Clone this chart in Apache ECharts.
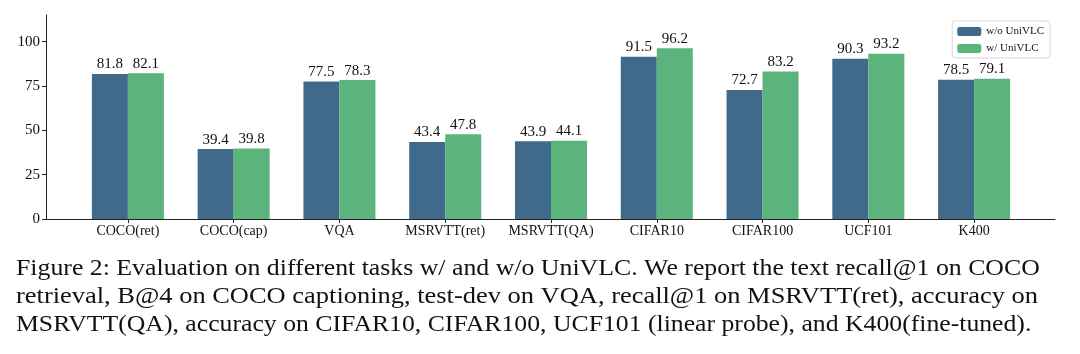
<!DOCTYPE html>
<html>
<head>
<meta charset="utf-8">
<script src="https://cdn.jsdelivr.net/npm/echarts@6/dist/echarts.min.js"></script>
<style>
  html, body { margin: 0; padding: 0; background: #fff; }
  #chart { width: 1080px; height: 354px; }
</style>
</head>
<body>
<div id="chart"></div>
<script>
// data
const tasks = ['COCO(ret)', 'COCO(cap)', 'VQA', 'MSRVTT(ret)', 'MSRVTT(QA)', 'CIFAR10', 'CIFAR100', 'UCF101', 'K400']
const withoutUniVLC = [81.8, 39.4, 77.5, 43.4, 43.9, 91.5, 72.7, 90.3, 78.5]
const withUniVLC = [82.1, 39.8, 78.3, 47.8, 44.1, 96.2, 83.2, 93.2, 79.1]
const yTicks = [0, 25, 50, 75, 100]
const captionLines = [
  'Figure 2: Evaluation on different tasks w/ and w/o UniVLC. We report the text recall@1 on COCO',
  'retrieval, B@4 on COCO captioning, test-dev on VQA, recall@1 on MSRVTT(ret), accuracy on',
  'MSRVTT(QA), accuracy on CIFAR10, CIFAR100, UCF101 (linear probe), and K400(fine-tuned).'
]

const serif = '"Liberation Serif", "Times New Roman", serif'
const yMax = 115
// the scanned caption is a bit wider than plain Times, stretch it per line
const captionStretch = [1.122, 1.15, 1.118]

const chart = echarts.init(document.getElementById('chart'), null, { renderer: 'canvas' })

const barLabel = {
  show: true,
  position: 'top',
  distance: 2,
  fontFamily: serif,
  fontSize: 15,
  color: '#111'
}

const option = {
  animation: false,
  backgroundColor: '#fff',
  textStyle: { fontFamily: serif },
  graphic: captionLines.map((line, i) => ({
    type: 'text',
    x: 16,
    y: 269 + i * 28.2,
    scaleX: captionStretch[i],
    style: {
      text: line,
      font: '23px ' + serif,
      fill: '#111',
      verticalAlign: 'middle'
    }
  })),
  legend: {
    orient: 'vertical',
    right: 30,
    top: 21,
    itemWidth: 24,
    itemHeight: 9,
    itemGap: 6,
    padding: [5, 6, 4, 5],
    borderColor: '#d6d6d6',
    borderWidth: 1,
    borderRadius: 3,
    textStyle: { fontFamily: serif, fontSize: 11, color: '#111' },
    data: ['w/o UniVLC', 'w/ UniVLC']
  },
  grid: [
    // axes frame (spines)
    { left: 46, right: 25, top: 15, bottom: 135 },
    // bars, with matplotlib-like side margins
    { left: 75, right: 53, top: 15, bottom: 135 }
  ],
  xAxis: [
    {
      gridIndex: 0,
      type: 'value',
      min: 0,
      max: 1,
      axisLine: { show: true, lineStyle: { color: '#222', width: 1 } },
      axisTick: { show: false },
      axisLabel: { show: false },
      splitLine: { show: false }
    },
    {
      gridIndex: 1,
      type: 'category',
      data: tasks,
      axisLine: { show: false },
      axisTick: { show: true, alignWithLabel: true, interval: 0, length: 4, lineStyle: { color: '#222' } },
      axisLabel: { fontFamily: serif, fontSize: 14, color: '#111', margin: 5, interval: 0 },
      splitLine: { show: false }
    }
  ],
  yAxis: [
    {
      gridIndex: 0,
      type: 'value',
      min: 0,
      max: yMax,
      axisLine: { show: true, lineStyle: { color: '#222', width: 1 } },
      axisTick: { show: true, length: 4, lineStyle: { color: '#222' }, customValues: yTicks },
      axisLabel: { fontFamily: serif, fontSize: 15, color: '#111', margin: 6, customValues: yTicks },
      splitLine: { show: false }
    },
    {
      gridIndex: 1,
      type: 'value',
      min: 0,
      max: yMax,
      show: false,
      splitLine: { show: false }
    }
  ],
  series: [
    {
      name: 'w/o UniVLC',
      type: 'bar',
      xAxisIndex: 1,
      yAxisIndex: 1,
      data: withoutUniVLC,
      barWidth: 36,
      barGap: '0%',
      itemStyle: { color: '#406a8b' },
      label: barLabel
    },
    {
      name: 'w/ UniVLC',
      type: 'bar',
      xAxisIndex: 1,
      yAxisIndex: 1,
      data: withUniVLC,
      barWidth: 36,
      barGap: '0%',
      itemStyle: { color: '#5cb47d' },
      label: barLabel
    }
  ]
}

chart.setOption(option)
</script>
</body>
</html>
